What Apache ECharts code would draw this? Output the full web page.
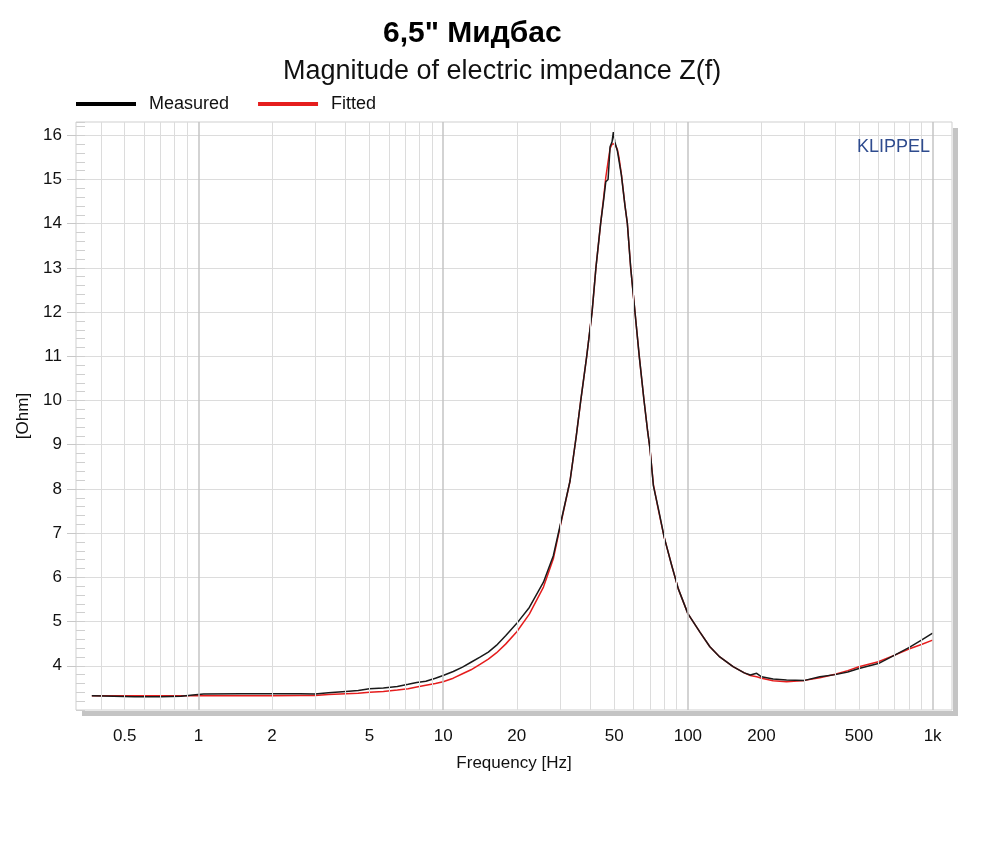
<!DOCTYPE html>
<html><head><meta charset="utf-8">
<script src="https://cdn.jsdelivr.net/npm/echarts@6/dist/echarts.min.js"></script>
<style>html,body{margin:0;padding:0;background:#fff}#c{width:1000px;height:845px}</style>
</head><body><div id="c"></div>
<script>
// ---- data ----
const frequencyHz = [0.367,0.45,0.55,0.7,0.85,0.95,1.05,1.5,2.0,2.6,3.0,3.4,4.0,4.5,5.0,5.7,6.5,7.2,7.8,8.5,9.3,10,11,12,13,14.2,15.3,16.5,18,20,22.5,25.7,28.2,30,33,35,36.5,38.6,40.6,42.1,44.0,45.3,46.2,47.2,48.1,49.0,49.6,50.3,51.5,52.3,53.5,55.3,56.6,58.4,60.8,63.3,66.2,68.5,70,72.3,75.8,80,85.9,91.4,100,112,123,135,153,170,180,191,200,223,253,300,346,400,450,500,600,700,800,900,1000];
const measuredOhm = [3.32,3.31,3.30,3.30,3.31,3.34,3.36,3.37,3.37,3.37,3.36,3.39,3.42,3.44,3.48,3.50,3.53,3.58,3.62,3.65,3.72,3.78,3.87,3.97,4.08,4.20,4.31,4.46,4.68,4.96,5.32,5.89,6.49,7.15,8.18,9.20,10.0,11.0,12.0,13.0,14.0,14.55,14.95,15.0,15.74,15.85,16.07,15.85,15.65,15.62,15.10,14.42,14.0,13.0,12.0,11.0,10.0,9.3,8.91,8.07,7.55,6.91,6.27,5.74,5.18,4.76,4.43,4.20,3.98,3.84,3.79,3.83,3.75,3.70,3.68,3.67,3.75,3.80,3.86,3.94,4.05,4.24,4.41,4.58,4.74];
const fittedOhm = [3.32,3.32,3.32,3.32,3.32,3.32,3.32,3.32,3.32,3.33,3.33,3.35,3.37,3.38,3.40,3.42,3.45,3.48,3.52,3.56,3.60,3.64,3.72,3.82,3.91,4.04,4.15,4.29,4.49,4.77,5.17,5.78,6.42,7.12,8.18,9.20,10.0,11.0,12.0,13.0,14.0,14.6,15.05,15.4,15.70,15.80,15.84,15.80,15.68,15.50,15.12,14.42,14.0,13.0,12.0,11.0,10.0,9.3,8.91,8.10,7.52,6.91,6.27,5.74,5.18,4.76,4.43,4.20,3.98,3.84,3.78,3.75,3.72,3.66,3.64,3.67,3.73,3.81,3.89,3.98,4.09,4.24,4.38,4.48,4.58];
const xTickLabels = [0.5,1,2,5,10,20,50,100,200,500,1000];
const yTickValues = [4,5,6,7,8,9,10,11,12,13,14,15,16];
const xMinorGrid = [0.4,0.5,0.6,0.7,0.8,0.9,2,3,4,5,6,7,8,9,20,30,40,50,60,70,80,90,200,300,400,500,600,700,800,900];
const xDecadeGrid = [1,10,100,1000];

const FONT = '"Liberation Sans", Arial, sans-serif';
const chart = echarts.init(document.getElementById('c'), null, {renderer:'canvas'});
const fmtX = v => { const n = Number(Number(v).toPrecision(6)); return n >= 1000 ? (n/1000) + 'k' : String(n); };

chart.setOption({
  animation: false,
  backgroundColor: '#ffffff',
  title: [
    {text: '6,5" Мидбас', left: 378, top: 14, textStyle: {fontFamily: FONT, fontSize: 30, fontWeight: 'bold', color: '#000'}},
    {text: 'Magnitude of electric impedance Z(f)', left: 278, top: 53, textStyle: {fontFamily: FONT, fontSize: 27, fontWeight: 'normal', color: '#111'}}
  ],
  legend: {
    data: ['Measured', 'Fitted'], left: 76, top: 95, padding: 0, icon: 'rect', itemWidth: 60, itemHeight: 4, itemGap: 29,
    textStyle: {fontFamily: FONT, fontSize: 18, color: '#111', padding: [0,0,0,8]}
  },
  grid: {left: 76, top: 122, width: 876, height: 588, show: true, borderColor: '#cfcfcf', borderWidth: 1, containLabel: false},
  xAxis: {
    type: 'log', logBase: 10, min: 0.3162, max: 1200,
    name: 'Frequency [Hz]', nameLocation: 'middle', nameGap: 45,
    nameTextStyle: {fontFamily: FONT, fontSize: 17, color: '#111'},
    axisLine: {show: false}, axisTick: {show: false}, splitLine: {show: false}, minorSplitLine: {show:false},
    axisLabel: {customValues: xTickLabels, formatter: fmtX, fontFamily: FONT, fontSize: 17, color: '#111', margin: 18}
  },
  yAxis: [
    {
      type: 'value', min: 3, max: 16.3, interval: 1,
      name: '[Ohm]', nameLocation: 'middle', nameGap: 44, nameRotate: 90,
      nameTextStyle: {fontFamily: FONT, fontSize: 17, color: '#111'},
      axisLine: {show: false},
      axisTick: {show: true, customValues: yTickValues, length: 9, lineStyle: {color: '#c8c8c8'}},
      axisLabel: {customValues: yTickValues, fontFamily: FONT, fontSize: 17, color: '#111', margin: 14},
      splitLine: {show: true, lineStyle: {color: '#dcdcdc', width: 1}}
    },
    {
      type: 'value', min: 3, max: 16.3, interval: 0.2, position: 'left', offset: 0,
      axisLine: {show: false}, axisLabel: {show: false}, splitLine: {show: false},
      axisTick: {show: true, inside: true, length: 9, lineStyle: {color: '#cfcfcf'}}
    }
  ],
  graphic: [
    {type: 'rect', z: -1, shape: {x: 953, y: 128, width: 5, height: 588}, style: {fill: '#c4c4c4'}},
    {type: 'rect', z: -1, shape: {x: 82, y: 711, width: 876, height: 5}, style: {fill: '#c4c4c4'}},
    {type: 'text', z: 100, left: 857, top: 138, style: {text: 'KLIPPEL', fill: '#2e4b8e', font: '18px ' + FONT}}
  ],
  series: [
    {
      name: 'grid', type: 'line', data: [], z: 1, silent: true, legendHoverLink: false,
      markLine: {
        silent: true, symbol: ['none','none'], label: {show: false}, animation: false,
        data: xMinorGrid.map(v => ({xAxis: v, lineStyle: {color: '#dcdcdc', width: 1, type: 'solid'}}))
          .concat(xDecadeGrid.map(v => ({xAxis: v, lineStyle: {color: '#c4c4c4', width: 1.5, type: 'solid'}})))
      }
    },
    {
      name: 'Fitted', type: 'line', z: 3, showSymbol: false, smooth: false,
      data: frequencyHz.map((f, i) => [f, fittedOhm[i]]),
      lineStyle: {color: '#e51d1d', width: 1.5}, itemStyle: {color: '#e51d1d'}
    },
    {
      name: 'Measured', type: 'line', z: 4, showSymbol: false, smooth: false,
      data: frequencyHz.map((f, i) => [f, measuredOhm[i]]),
      lineStyle: {color: '#1a1a1a', width: 1.5}, itemStyle: {color: '#000000'}
    }
  ]
});
</script></body></html>
